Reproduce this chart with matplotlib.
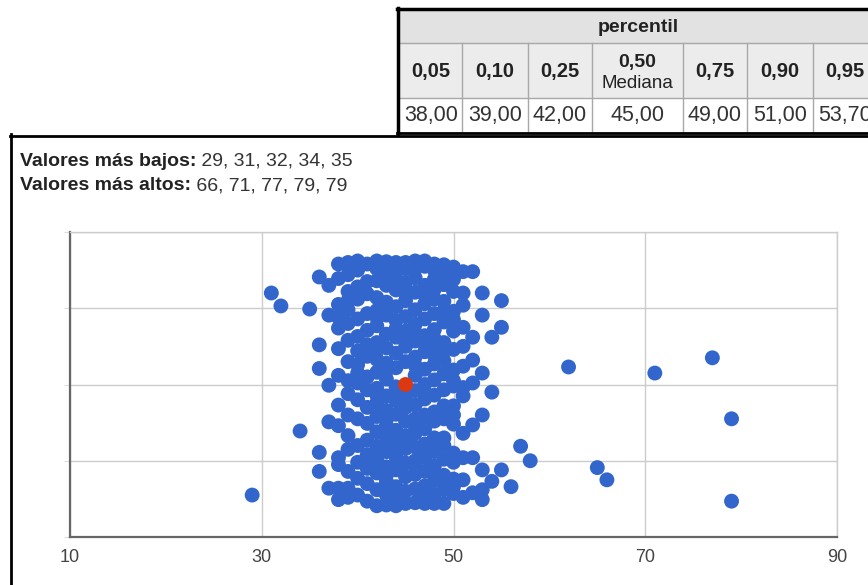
import numpy as np
import matplotlib.pyplot as plt
from matplotlib.patches import Rectangle

plt.rcParams['font.family'] = ['Liberation Sans', 'DejaVu Sans']

# valores observados (eje x) y posición vertical de cada punto en su columna
valores = [29, 31, 32, 34, 35, 36, 37, 38, 39, 40, 41, 42, 43, 44, 45, 46, 47, 48,
           49, 50, 51, 52, 53, 54, 55, 56, 57, 58, 62, 65, 66, 71, 77, 79]
jitter = [
    [0.55],
    [3.20],
    [3.03],
    [1.39],
    [2.99],
    [3.41, 2.52, 2.21, 1.11, 0.86],
    [3.30, 2.91, 1.99, 1.51, 0.64],
    [3.58, 3.39, 3.05, 2.74, 2.47, 2.12, 1.73, 1.46, 1.04, 0.64, 0.49, 0.95, 2.88],
    [3.60, 3.44, 3.22, 2.98, 2.80, 2.58, 2.30, 2.05, 1.88, 1.60, 1.33, 1.15, 0.86,
     0.64, 0.52, 3.10],
    [3.62, 3.50, 3.28, 3.12, 2.86, 2.63, 2.44, 2.26, 2.02, 1.80, 1.55, 1.20, 0.98,
     0.77, 0.55, 2.15],
    [3.58, 3.35, 3.19, 2.93, 2.71, 2.52, 2.37, 2.10, 1.93, 1.70, 1.49, 1.27, 1.08,
     0.90, 0.70, 0.47],
    [3.62, 3.52, 3.36, 3.14, 2.97, 2.77, 2.55, 2.33, 2.16, 1.95, 1.76, 1.58, 1.38,
     1.19, 1.01, 0.84, 0.62, 0.41, 2.88, 2.45, 1.86],
    [3.61, 3.55, 3.30, 3.08, 2.91, 2.66, 2.48, 2.28, 2.07, 1.85, 1.66, 1.46, 1.30,
     1.12, 0.92, 0.73, 0.55, 0.42, 3.43, 2.18, 1.54, 0.81],
    [3.60, 3.47, 3.24, 3.02, 2.84, 2.62, 2.41, 2.22, 1.97, 1.79, 1.61, 1.40, 1.24,
     1.05, 0.88, 0.66, 0.50, 0.41, 3.36, 2.73, 1.88, 1.15],
    [3.60, 3.52, 3.34, 3.10, 2.89, 2.70, 2.50, 2.30, 1.84, 1.70, 1.52, 1.33, 1.16,
     0.97, 0.79, 0.60, 0.44, 2.60, 3.20, 1.25],
    [3.62, 3.40, 3.21, 2.98, 2.79, 2.57, 2.36, 2.12, 1.92, 1.73, 1.55, 1.36, 1.18,
     1.00, 0.82, 0.63, 0.45, 3.52, 2.68, 1.45, 2.25, 0.92],
    [3.62, 3.55, 3.30, 3.06, 2.86, 2.64, 2.43, 2.20, 2.00, 1.81, 1.60, 1.42, 1.22,
     1.04, 0.86, 0.67, 0.44, 2.53, 1.90, 3.18, 1.12, 0.55],
    [3.58, 3.50, 3.38, 3.12, 2.93, 2.72, 2.48, 2.27, 2.06, 1.86, 1.64, 1.30, 1.12,
     0.93, 0.74, 0.56, 0.44, 2.60, 3.25, 1.52, 0.84, 2.38],
    [3.57, 3.31, 3.09, 2.82, 2.55, 2.31, 2.14, 1.93, 1.72, 1.30, 1.02, 0.81, 0.62,
     0.44, 2.97, 1.55, 3.45, 2.44, 1.20, 0.70],
    [3.54, 3.22, 2.96, 2.70, 2.46, 2.19, 1.98, 1.72, 1.48, 0.98, 0.76, 0.57, 3.38,
     2.85, 1.60, 1.10, 0.66, 2.05],
    [3.48, 3.04, 2.75, 2.50, 2.24, 1.85, 1.36, 1.04, 0.75, 0.52, 3.20, 1.96],
    [3.48, 2.62, 2.32, 2.02, 1.47, 1.04, 0.58],
    [3.20, 2.91, 2.15, 1.60, 0.88, 0.62, 0.49],
    [2.62, 1.90, 0.73],
    [3.10, 2.75, 0.88],
    [0.66],
    [1.19],
    [1.00],
    [2.23],
    [0.91],
    [0.75],
    [2.15],
    [2.35],
    [1.55, 0.47],
]

percentiles = ["0,05", "0,10", "0,25", "0,50", "0,75", "0,90", "0,95"]
pct_valores = [38.00, 39.00, 42.00, 45.00, 49.00, 51.00, 53.70]
bajos = [29, 31, 32, 34, 35]
altos = [66, 71, 77, 79, 79]

x = np.repeat(valores, [len(j) for j in jitter])
y = np.concatenate(jitter)
mediana = pct_valores[percentiles.index("0,50")]

fig = plt.figure(figsize=(8.68, 5.85), dpi=100)

# capa de fondo en pixeles: tabla de percentiles, marco y textos
fondo = fig.add_axes([0, 0, 1, 1])
fondo.set_xlim(0, 868)
fondo.set_ylim(585, 0)
fondo.axis('off')

bordes = [400, 462, 528, 592, 683, 747, 813, 877]
fondo.add_patch(Rectangle((400, 10), 477, 33, facecolor='#e2e2e2', edgecolor='none'))
fondo.add_patch(Rectangle((400, 43), 477, 55, facecolor='#ececec', edgecolor='none'))
fondo.plot([400, 877], [43, 43], color='#a8a8a8', lw=1)
fondo.plot([400, 877], [98, 98], color='#a8a8a8', lw=1)
for b in bordes[1:-1]:
    fondo.plot([b, b], [43, 132], color='#a8a8a8', lw=1)
fondo.plot([398, 398], [8, 134], color='black', lw=2.5)
fondo.plot([397, 868], [9, 9], color='black', lw=2.5)
fondo.plot([397, 868], [133, 133], color='black', lw=2)

fondo.text(638, 27, "percentil", ha='center', va='center', fontsize=14,
           fontweight='bold', color='#222222')
for i, (p, v) in enumerate(zip(percentiles, pct_valores)):
    cx = (bordes[i] + bordes[i + 1]) / 2
    if p == "0,50":
        fondo.text(cx, 62, p, ha='center', va='center', fontsize=14,
                   fontweight='bold', color='#222222')
        fondo.text(cx, 83, "Mediana", ha='center', va='center', fontsize=13.5,
                   color='#222222')
    else:
        fondo.text(cx, 71, p, ha='center', va='center', fontsize=14.5,
                   fontweight='bold', color='#222222')
    fondo.text(cx, 116, f"{v:.2f}".replace(".", ","), ha='center', va='center',
               fontsize=15.5, color='#333333')

# marco del gráfico
fondo.plot([11, 11], [134, 585], color='black', lw=2)
fondo.plot([10, 868], [136, 136], color='black', lw=2)

for yy, etiqueta, datos in [(161, "Valores más bajos:", bajos),
                            (186, "Valores más altos:", altos)]:
    t = fondo.text(20, yy, etiqueta, ha='left', va='center', fontsize=14,
                   fontweight='bold', color='#222222')
    fondo.annotate(" " + ", ".join(str(d) for d in datos), xy=(1, 0),
                   xycoords=t, ha='left', va='bottom', fontsize=14,
                   color='#333333')

# diagrama de puntos
ax = fig.add_axes([70 / 868, 48 / 585, 767 / 868, 305 / 585])
ax.scatter(x, y, s=115, color='#3366cc', edgecolors='none', zorder=3)
ax.scatter([mediana], [2.0], s=115, color='#dc3912', edgecolors='none', zorder=4)

ax.set_xlim(10, 90)
ax.set_ylim(0, 4)
ax.set_xticks([10, 30, 50, 70, 90])
ax.set_yticks([0, 1, 2, 3, 4])
ax.set_yticklabels([])
ax.set_axisbelow(True)
ax.grid(True, color='#cccccc', lw=1)
ax.tick_params(axis='x', length=0, pad=9, labelsize=13, labelcolor='#444444')
ax.tick_params(axis='y', length=4, color='#dddddd')
for lado in ['top', 'right']:
    ax.spines[lado].set_color('#cccccc')
    ax.spines[lado].set_linewidth(1)
for lado in ['left', 'bottom']:
    ax.spines[lado].set_color('#666666')
    ax.spines[lado].set_linewidth(1.6)

fig.savefig("out.png", dpi=100)
